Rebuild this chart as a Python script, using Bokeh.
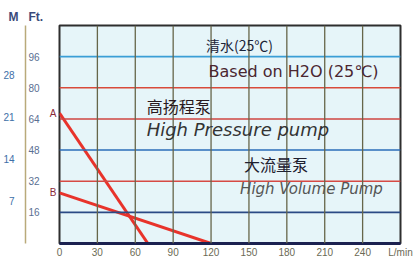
from bokeh.plotting import figure
from bokeh.models import Range1d, LinearAxis, FixedTicker, Span, Label
from bokeh.embed import file_html
from bokeh.resources import INLINE

# ---- data ----
flow_ticks = [0, 30, 60, 90, 120, 150, 180, 210, 240]
flow_max = 270
flow_unit = "L/min"
ft_ticks = [16, 32, 48, 64, 80, 96]
ft_max = 112
m_ticks = [7, 14, 21, 28]
m_max = 36.3

pump_a_flow = [0, 70]
pump_a_head = [67, 0]
pump_b_flow = [0, 120]
pump_b_head = [26, 0]
curve_names = ["A", "B"]

grid_colors = ["#2b4a85", "#d64a44", "#2a6cb8", "#cf4540", "#d84a3a", "#3a9ed6"]

CJK = "Noto Sans CJK SC"
LAT = "DejaVu Sans"
NB = "\u00a0"

p = figure(width=419, height=260,
           x_range=Range1d(0, flow_max), y_range=Range1d(0, ft_max),
           output_backend="svg", toolbar_location=None,
           min_border_left=0, min_border_right=19, min_border_top=25, min_border_bottom=0,
           background_fill_color="#e6f5f9", border_fill_color="white",
           outline_line_color="#2e2e2e", outline_line_width=2)
p.grid.visible = False

p.title.text = "M" + NB * 3 + "Ft."
p.title.align = "left"
p.title.offset = -51
p.title.standoff = 3
p.title.text_font = "Liberation Sans"
p.title.text_font_size = "12px"
p.title.text_font_style = "bold"
p.title.text_color = "#3a4a7a"

# horizontal grid lines
for t, c in zip(ft_ticks, grid_colors):
    p.add_layout(Span(location=t, dimension="width", line_color=c, line_width=1.6))
# vertical grid lines
for t in flow_ticks[1:]:
    p.add_layout(Span(location=t, dimension="height", line_color="#66664a", line_width=1.3))

def style_axis(ax, color, size="10px", standoff=3):
    ax.major_tick_line_color = None
    ax.minor_tick_line_color = None
    ax.major_tick_out = 0
    ax.major_tick_in = 0
    ax.minor_tick_out = 0
    ax.minor_tick_in = 0
    ax.major_label_text_font = "Liberation Sans"
    ax.major_label_text_font_size = size
    ax.major_label_text_color = color
    ax.major_label_standoff = standoff

# x axis (with unit label at the end)
xa = p.xaxis[0]
xa.ticker = FixedTicker(ticks=flow_ticks + [flow_max])
xa.major_label_overrides = {flow_max: flow_unit}
style_axis(xa, "#6b6a55", "10px", 3)
xa.axis_line_color = "#1b2150"
xa.axis_line_width = 3

# A / B curve markers (innermost left axis)
ya = p.yaxis[0]
ya.ticker = FixedTicker(ticks=[pump_a_head[0], pump_b_head[0]])
ya.major_label_overrides = {pump_a_head[0]: curve_names[0], pump_b_head[0]: curve_names[1]}
style_axis(ya, "#8a2a3a", "10px", 3)
ya.axis_line_color = None

# Ft axis
fa = LinearAxis(ticker=FixedTicker(ticks=ft_ticks))
style_axis(fa, "#5a6f92", "10px", 7)
fa.axis_line_color = None
p.add_layout(fa, "left")

# M axis
p.extra_y_ranges = {"m": Range1d(0, m_max)}
ma = LinearAxis(y_range_name="m", ticker=FixedTicker(ticks=m_ticks))
style_axis(ma, "#3e6fa8", "10px", 11)
ma.axis_line_color = "#b9aa7a"
ma.axis_line_width = 1.5
p.add_layout(ma, "left")

# pump curves
p.line(pump_a_flow, pump_a_head, line_color="#e8332b", line_width=3)
p.line(pump_b_flow, pump_b_head, line_color="#e8332b", line_width=3)

def lab(x, y, text, size, color, font=LAT, style="normal"):
    p.add_layout(Label(x=x, y=y, text=text, text_font=font, text_font_size=size,
                       text_color=color, text_font_style=style, text_align="left",
                       text_baseline="middle"))

lab(116, 102, "清水(25℃)", "14px", "#1c2438", font=CJK)
lab(118, 88.5, "Based on H2O (25℃)", "16px", "#4a2630")
lab(69, 70.5, "高扬程泵", "16px", "#2a1a1e", font=CJK)
lab(69, 58.7, "High Pressure pump", "18px", "#333333", style="italic")
lab(146, 40.8, "大流量泵", "16px", "#1e2030", font=CJK)
lab(143, 28, "High Volume Pump", "15px", "#555555", style="italic")

open("out.html", "w").write(file_html(p, INLINE))
